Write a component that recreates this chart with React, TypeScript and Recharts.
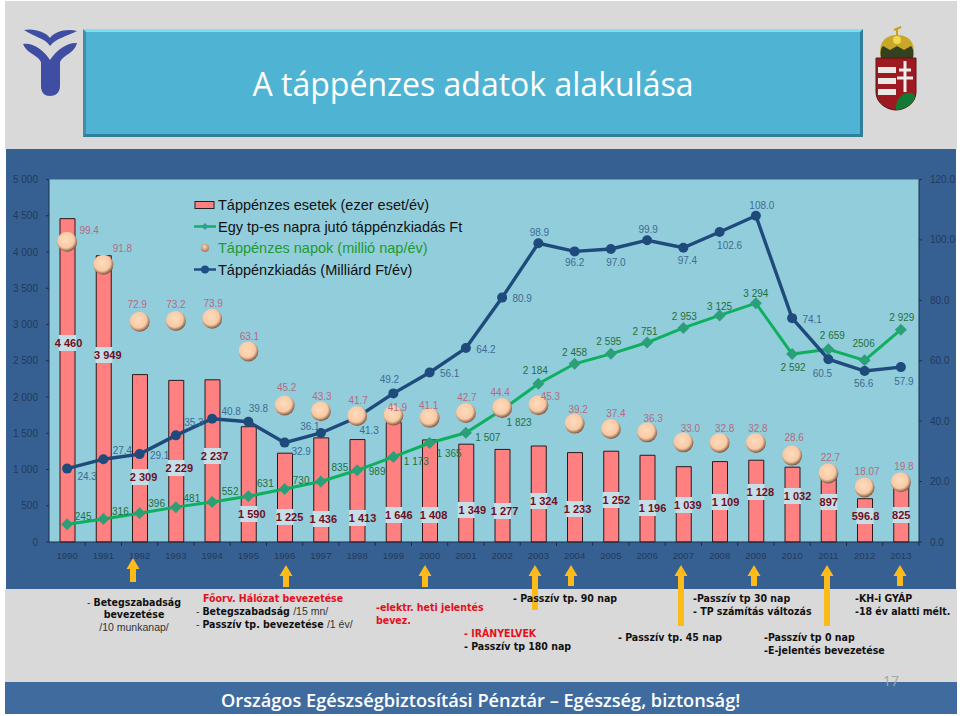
import { Bar, CartesianGrid, ComposedChart, LabelList, Line, XAxis, YAxis } from 'recharts'

const years = ['1990', '1991', '1992', '1993', '1994', '1995', '1996', '1997', '1998', '1999', '2000', '2001',
  '2002', '2003', '2004', '2005', '2006', '2007', '2008', '2009', '2010', '2011', '2012', '2013']

// ezer eset/év
const cases = [4460, 3949, 2309, 2229, 2237, 1590, 1225, 1436, 1413, 1646, 1408, 1349,
  1277, 1324, 1233, 1252, 1196, 1039, 1109, 1128, 1032, 897, 596.8, 825]
// Ft / tp-es nap
const dailyPay = [245, 316, 396, 481, 552, 631, 730, 835, 989, 1173, 1365, 1507,
  1823, 2184, 2458, 2595, 2751, 2953, 3125, 3294, 2592, 2659, 2506, 2929]
// millió nap/év
const sickDays = [99.4, 91.8, 72.9, 73.2, 73.9, 63.1, 45.2, 43.3, 41.7, 41.9, 41.1, 42.7,
  44.4, 45.3, 39.2, 37.4, 36.3, 33.0, 32.8, 32.8, 28.6, 22.7, 18.07, 19.8]
// Milliárd Ft/év
const spending = [24.3, 27.4, 29.1, 35.3, 40.8, 39.8, 32.9, 36.1, 41.3, 49.2, 56.1, 64.2,
  80.9, 98.9, 96.2, 97.0, 99.9, 97.4, 102.6, 108.0, 74.1, 60.5, 56.6, 57.9]

const leftTicks = [0, 500, 1000, 1500, 2000, 2500, 3000, 3500, 4000, 4500, 5000]
const rightTicks = [0, 20, 40, 60, 80, 100, 120]

const legendNames = [
  'Táppénzes esetek (ezer eset/év)',
  'Egy tp-es napra jutó táppénzkiadás Ft',
  'Táppénzes napok (millió nap/év)',
  'Táppénzkiadás (Milliárd Ft/év)',
]

const thin = (v: number) => String(v).replace(/\B(?=(\d{3})+$)/, ' ')

const caseLabels = cases.map(thin)
const dailyLabels = dailyPay.map((v) => (v === 2506 ? '2506' : thin(v)))
const dayLabels = sickDays.map((v) => (v === 18.07 ? '18.07' : v.toFixed(1)))
const spendingLabels = spending.map((v) => v.toFixed(1))

// label nudges, hand placed like in the original slide: [dx, dy] from the point
const caseNudge = [
  [1, 199], [4, 187], [3.5, 65], [3, 74], [2, 86], [3, 28], [4.5, 25], [2, 23], [5, 24], [5, 27], [3.5, 27], [6, 32],
  [2, 31], [5, 41], [2.5, 33], [5, 42], [5, 34], [4, 37], [5.5, 40], [4, 50], [5, 46], [0, 40], [0.5, 26], [0, 27],
]
const dailyNudge = [
  [16, -8], [17, -8], [17, -10], [16, -9], [18, -10], [17, -13], [16.5, -9], [19, -14], [20, 1], [23, 5], [19.5, 10], [22, 5],
  [17, 13], [-3, -13], [0, -11], [-2, -12], [-2, -11], [1, -11], [0, -9], [0, -10], [1, 13], [4, -14], [-1, -17], [1, -12],
]
const dayNudge = [
  [22, -11], [19, -16], [-2.5, -17.5], [0, -16], [1, -15], [1, -15], [2, -18], [1, -15], [1, -16], [4, -8], [-1, -12], [1, -16],
  [-2, -15], [12, -9], [3.5, -14], [5, -16], [6, -14], [7, -14], [5, -14], [2, -14], [2, -18], [2, -16], [2.5, -16], [3, -16],
]
const spendingNudge = [
  [20, 7.5], [19, -9], [20, 1], [18, -13], [19, -7], [10, -13], [16.5, 8.5], [-11, -6], [12, 13], [-4, -14], [20, 1], [20, 1],
  [20, 1], [1, -11], [0, 11], [5, 14], [1, -11], [4, 13], [10, 13], [6, -10], [20, 1], [-6, 14], [-1, 12], [3, 14],
]

const chartData = years.map((year, i) => ({
  year,
  cases: cases[i],
  dailyPay: dailyPay[i],
  sickDays: sickDays[i],
  spending: spending[i],
}))

// yellow arrows under the axis: [x, top, bottom]
const arrows = [
  [133, 558, 582], [286, 565, 587], [425, 565, 587], [535, 565, 610], [571, 565, 586],
  [681, 565, 626], [754, 565, 586], [827, 565, 626], [900, 565, 586],
]

const SANS = '"Liberation Sans", Arial, sans-serif'
const NOTE = '"DejaVu Sans Condensed", "DejaVu Sans", sans-serif'
const TITLE = '"Open Sans", sans-serif'
const RED = '#e3101c'

function nudgedLabel(labels: string[], nudge: number[][], color: string, weight = 400) {
  return (props: any) => {
    const { x, y, index } = props
    return (
      <text
        x={x + nudge[index][0]}
        y={y + nudge[index][1]}
        textAnchor="middle"
        dominantBaseline="central"
        fontFamily={SANS}
        fontSize={10}
        fontWeight={weight}
        fill={color}
      >
        {labels[index]}
      </text>
    )
  }
}

function CaseLabel(props: any) {
  const { x, y, width, height, index } = props
  const cx = x + width / 2 + caseNudge[index][0]
  const cy = y + height - caseNudge[index][1]
  return (
    <g>
      {/* the pale gap only shows across the bar, the text runs past it */}
      <rect x={x - 1} y={cy - 8} width={width + 2} height={16} fill="#c6dee8" />
      <text x={cx} y={cy} textAnchor="middle" dominantBaseline="central" fontFamily={SANS} fontSize={11} fontWeight={700} fill="#6e0f22">
        {caseLabels[index]}
      </text>
    </g>
  )
}

function Sphere(props: any) {
  const { cx, cy, index } = props
  return <circle key={index} cx={cx} cy={cy} r={10} fill="url(#sphere)" />
}

function YearTick(props: any) {
  const { x, y, payload } = props
  return (
    <g>
      <line x1={x + 18.1} x2={x + 18.1} y1={y - 8} y2={y - 4} stroke="#1b2f4a" />
      <text x={x} y={y + 5} textAnchor="middle" dominantBaseline="central" fontFamily={SANS} fontSize={9.5} fill="#1f3a5a">
        {payload.value}
      </text>
    </g>
  )
}

function Note({ x, y, children, center }: any) {
  return (
    <div
      style={{
        position: 'absolute',
        left: x,
        top: y - 7,
        lineHeight: '14px',
        whiteSpace: 'nowrap',
        fontFamily: NOTE,
        fontSize: 10.5,
        fontWeight: 700,
        color: '#111',
        transform: center ? 'translateX(-50%)' : undefined,
      }}
    >
      {children}
    </div>
  )
}

const Thin = ({ children }: any) => (
  <span style={{ fontFamily: SANS, fontWeight: 400, color: '#333' }}>{children}</span>
)

function SlideLegend() {
  const rowStyle = (top: number, color = '#111'): any => ({
    position: 'absolute',
    left: 218,
    top: top - 9,
    lineHeight: '18px',
    fontFamily: SANS,
    fontSize: 14.5,
    color,
    whiteSpace: 'nowrap',
  })
  return (
    <>
      <svg width={960} height={300} style={{ position: 'absolute', left: 0, top: 0 }}>
        <rect x={195} y={201.5} width={19} height={7} fill="#ff8080" stroke="#222" />
        <line x1={194} x2={216} y1={226.5} y2={226.5} stroke="#0fb060" strokeWidth={2.5} />
        <path d="M205 223 l3.5 3.5 l-3.5 3.5 l-3.5 -3.5 Z" fill="#2f9f8f" />
        <circle cx={205} cy={248} r={4} fill="url(#sphereLegend)" />
        <line x1={194} x2={216} y1={269.5} y2={269.5} stroke="#1f4e82" strokeWidth={2.5} />
        <circle cx={205} cy={269.5} r={4} fill="#1f4e82" />
        <defs>
          <radialGradient id="sphereLegend" cx="45%" cy="35%" r="70%">
            <stop offset="0%" stopColor="#ffd8b8" />
            <stop offset="100%" stopColor="#a86a50" />
          </radialGradient>
        </defs>
      </svg>
      <div style={rowStyle(205)}>{legendNames[0]}</div>
      <div style={rowStyle(227)}>{legendNames[1]}</div>
      <div style={rowStyle(248, '#1f9a2f')}>{legendNames[2]}</div>
      <div style={rowStyle(270)}>{legendNames[3]}</div>
    </>
  )
}

export default function App() {
  return (
    <div style={{ position: 'absolute', left: 0, top: 0, width: 960, height: 716, background: '#fff', overflow: 'hidden' }}>
      {/* slide background */}
      <div style={{ position: 'absolute', left: 5, top: 1, width: 952, height: 148, background: '#d9d9d9' }} />
      <div style={{ position: 'absolute', left: 5, top: 589, width: 952, height: 93, background: '#d9d9d9' }} />
      <div style={{ position: 'absolute', left: 6, top: 149, width: 950, height: 440, background: '#376092' }} />
      <div style={{ position: 'absolute', left: 5, top: 682, width: 952, height: 32, background: '#406b9f' }} />

      {/* title box */}
      <div
        style={{
          position: 'absolute',
          left: 83,
          top: 29,
          width: 774,
          height: 102,
          background: '#4fb3d3',
          borderStyle: 'solid',
          borderWidth: 3,
          borderColor: '#7fdff2 #2f7f9a #2f7f9a #3e8ea8',
          color: '#fff',
          fontFamily: TITLE,
          fontSize: 32,
          textAlign: 'center',
          lineHeight: '104px',
        }}
      >
        A táppénzes adatok alakulása
      </div>

      {/* OEP logo */}
      <svg width={90} height={110} style={{ position: 'absolute', left: 0, top: 0 }}>
        <path d="M24 30 C34 28 46 32 50 38 C54 32 66 28 77 31 C68 36 56 38 50 46 C45 38 34 37 24 30Z" fill="#3f4ea3" />
        <path d="M23 44 C32 42 44 50 50 60 C56 50 68 42 77 43 C74 54 64 54 60 62 L60 86 C60 93 55 96 50 96 C45 96 41 93 41 86 L41 62 C37 54 27 54 23 44Z" fill="#3f4ea3" />
      </svg>

      {/* coat of arms */}
      <svg width={60} height={100} style={{ position: 'absolute', left: 868, top: 20 }}>
        <path d="M13 38 C9 20 20 15 29 15 C38 15 49 20 45 38 Z" fill="#c9a828" />
        <path d="M13 38 C12 32 13 28 15 26 L22 30 L29 26 L36 30 L43 26 C45 28 46 32 45 38 Z" fill="#35401f" />
        <circle cx={29} cy={20} r={4} fill="#f0d850" />
        <path d="M29 15 L29 8 M26 10 L33 7" stroke="#c9a020" strokeWidth={2} />
        <path d="M8 38 H48 V72 C48 84 36 90 28 90 C20 90 8 84 8 72 Z" fill="#9c1a20" stroke="#5a1418" />
        <rect x={10} y={47} width={18} height={6} fill="#e8e8e4" />
        <rect x={10} y={58} width={18} height={6} fill="#e8e8e4" />
        <rect x={10} y={69} width={18} height={6} fill="#e8e8e4" />
        <path d="M28 86 C30 72 44 70 47 76 C46 84 38 89 28 90 Z" fill="#137a33" />
        <path d="M37 41 V72 M31 50 H43 M29 58 H45" stroke="#eee" strokeWidth={3} />
      </svg>

      <ComposedChart
        width={960}
        height={716}
        data={chartData}
        margin={{ top: 179.5, right: 0, bottom: 144, left: 0 }}
        style={{ position: 'absolute', left: 0, top: 0 }}
      >
        <defs>
          <radialGradient id="sphere" cx="44%" cy="40%" r="60%">
            <stop offset="0%" stopColor="#ffdcbc" />
            <stop offset="68%" stopColor="#f8caa6" />
            <stop offset="100%" stopColor="#7f563e" />
          </radialGradient>
        </defs>
        <CartesianGrid horizontal={false} vertical={false} fill="#92cddc" />
        <XAxis
          dataKey="year"
          height={30}
          interval={0}
          axisLine={{ stroke: '#1b2f4a' }}
          tickLine={false}
          tick={YearTick}
        />
        <YAxis
          yAxisId="left"
          width={49}
          domain={[0, 5000]}
          ticks={leftTicks}
          interval={0}
          tickFormatter={thin}
          tickSize={3}
          tickMargin={8}
          axisLine={{ stroke: '#1b2f4a' }}
          tickLine={{ stroke: '#1b2f4a' }}
          tick={{ fill: '#1f3a5a', fontSize: 10, fontFamily: SANS }}
        />
        <YAxis
          yAxisId="right"
          orientation="right"
          width={41}
          domain={[0, 120]}
          ticks={rightTicks}
          interval={0}
          tickFormatter={(v: number) => v.toFixed(1)}
          tickSize={3}
          tickMargin={8}
          axisLine={{ stroke: '#1b2f4a' }}
          tickLine={{ stroke: '#1b2f4a' }}
          tick={{ fill: '#1f3a5a', fontSize: 10, fontFamily: SANS }}
        />
        <Bar yAxisId="left" dataKey="cases" barSize={15} fill="#ff8080" stroke="#2a1a1a" strokeWidth={1} isAnimationActive={false}>
          <LabelList dataKey="cases" content={CaseLabel} />
        </Bar>
        <Line
          yAxisId="left"
          dataKey="dailyPay"
          stroke="#0db05c"
          strokeWidth={3}
          dot={{ r: 0 }}
          isAnimationActive={false}
        >
          <LabelList dataKey="dailyPay" content={nudgedLabel(dailyLabels, dailyNudge, '#1f7038')} />
        </Line>
        <Line
          yAxisId="left"
          dataKey="dailyPay"
          stroke="none"
          dot={(p: any) => (
            <path key={p.index} d={`M${p.cx} ${p.cy - 6} l6 6 l-6 6 l-6 -6 Z`} fill="#2a9f78" />
          )}
          isAnimationActive={false}
        />
        <Line
          yAxisId="right"
          dataKey="spending"
          stroke="#1f4a7c"
          strokeWidth={3.4}
          dot={{ r: 5, fill: '#1f4a7c', stroke: 'none' }}
          isAnimationActive={false}
        >
          <LabelList dataKey="spending" content={nudgedLabel(spendingLabels, spendingNudge, '#3c6c92')} />
        </Line>
        <Line
          yAxisId="right"
          dataKey="sickDays"
          stroke="none"
          dot={Sphere}
          isAnimationActive={false}
        >
          <LabelList dataKey="sickDays" content={nudgedLabel(dayLabels, dayNudge, '#b86a7e')} />
        </Line>
      </ComposedChart>

      <SlideLegend />

      {/* law change arrows */}
      <svg width={960} height={716} style={{ position: 'absolute', left: 0, top: 0, pointerEvents: 'none' }}>
        {arrows.map(([x, top, bottom]) => (
          <path
            key={x}
            d={`M${x} ${top} l6.5 11 h-3.5 V${bottom} h-6 V${top + 11} h-3.5 Z`}
            fill="#fdbb1a"
          />
        ))}
      </svg>

      {/* notes under the chart */}
      <Note x={134} y={602} center><Thin>- </Thin>Betegszabadság</Note>
      <Note x={134} y={614} center>bevezetése</Note>
      <Note x={134} y={627} center><Thin>/10 munkanap/</Thin></Note>

      <Note x={203} y={598}><span style={{ color: RED }}>Főorv. Hálózat bevezetése</span></Note>
      <Note x={196} y={611}><Thin>- </Thin>Betegszabadság <Thin>/15 mn/</Thin></Note>
      <Note x={196} y={624}><Thin>- </Thin>Passzív tp. bevezetése <Thin>/1 év/</Thin></Note>

      <Note x={376} y={607}><span style={{ color: RED }}>-elektr. heti jelentés</span></Note>
      <Note x={376} y={620}><span style={{ color: RED }}>bevez.</span></Note>

      <Note x={464} y={633}><span style={{ color: RED }}>- IRÁNYELVEK</span></Note>
      <Note x={464} y={646}>- Passzív tp 180 nap</Note>

      <Note x={513} y={598}>- Passzív tp. 90 nap</Note>
      <Note x={618} y={637}>- Passzív tp. 45 nap</Note>

      <Note x={693} y={598}>-Passzív tp 30 nap</Note>
      <Note x={693} y={611}>- TP számítás változás</Note>

      <Note x={764} y={637}>-Passzív tp 0 nap</Note>
      <Note x={764} y={650}>-E-jelentés bevezetése</Note>

      <Note x={855} y={598}>-KH-i GYÁP</Note>
      <Note x={855} y={611}>-18 év alatti mélt.</Note>

      <div style={{ position: 'absolute', left: 883, top: 673, fontFamily: TITLE, fontSize: 14, lineHeight: '16px', color: '#a6a6a6' }}>17</div>

      <div
        style={{
          position: 'absolute',
          left: 221,
          top: 688,
          lineHeight: '24px',
          fontFamily: TITLE,
          fontSize: 18.2,
          fontWeight: 600,
          color: '#fff',
          whiteSpace: 'nowrap',
        }}
      >
        Országos Egészségbiztosítási Pénztár – Egészség, biztonság!
      </div>
    </div>
  )
}
